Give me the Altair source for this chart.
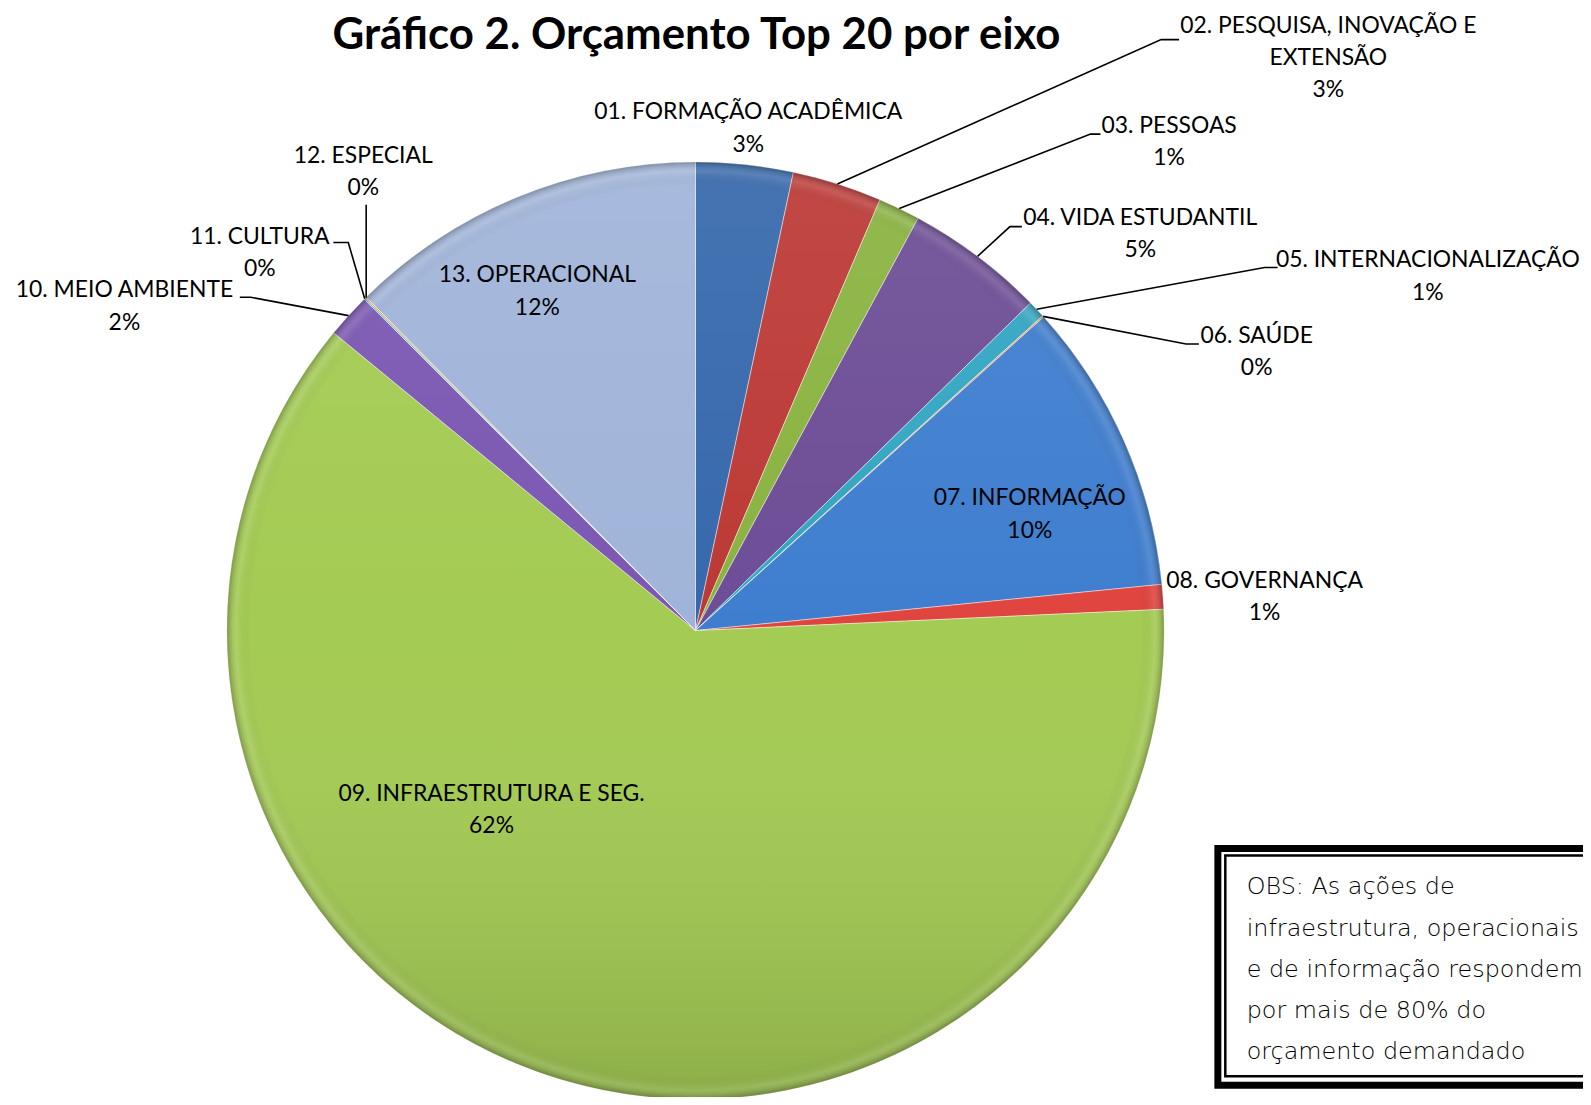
import math
import altair as alt
import pandas as pd

# ---------------- data ----------------
categories = [
    "01. FORMAÇÃO ACADÊMICA", "02. PESQUISA, INOVAÇÃO E EXTENSÃO", "03. PESSOAS",
    "04. VIDA ESTUDANTIL", "05. INTERNACIONALIZAÇÃO", "06. SAÚDE", "07. INFORMAÇÃO",
    "08. GOVERNANÇA", "09. INFRAESTRUTURA E SEG.", "10. MEIO AMBIENTE", "11. CULTURA",
    "12. ESPECIAL", "13. OPERACIONAL",
]
values = [3.35, 3.09, 1.44, 4.80, 0.60, 0.05, 10.10, 0.85, 61.70, 1.54, 0.05, 0.05, 12.40]
label_lines = [
    ["01. FORMAÇÃO ACADÊMICA"], ["02. PESQUISA, INOVAÇÃO E", "EXTENSÃO"], ["03. PESSOAS"],
    ["04. VIDA ESTUDANTIL"], ["05. INTERNACIONALIZAÇÃO"], ["06. SAÚDE"], ["07. INFORMAÇÃO"],
    ["08. GOVERNANÇA"], ["09. INFRAESTRUTURA E SEG."], ["10. MEIO AMBIENTE"], ["11. CULTURA"],
    ["12. ESPECIAL"], ["13. OPERACIONAL"],
]
title_text = "Gráfico 2. Orçamento Top 20 por eixo"
note_lines = ["OBS: As ações de", "infraestrutura, operacionais", "e de informação respondem",
              "por mais de 80% do", "orçamento demandado"]

# ---------------- styles / layout ----------------
colors = ["#3668AC", "#BC3935", "#8AB340", "#6D4D96", "#32A6C3", "#F79646", "#3F7ECF",
          "#E0443E", "#A4CB53", "#7B57B2", "#4BC0DC", "#F9A050", "#A0B4D9"]
TOP = 8                      # extra top padding; all y below are shifted up by it
W, H = 1583, 1089 - TOP
CX, CY, R = 691, 623 - TOP, 471
LINE_H = 32.5
FONT = "Lato"
# first-line centre of each label (layout, before shift)
label_pos = [(744, 102), (1327, 15), (1167, 116), (1138, 208), (1427, 251), (1255, 327),
             (1027, 490), (1263, 573), (486, 787), (117, 281), (253, 227), (357, 146),
             (532, 266)]
# leader lines: (elbow, end) near label, or None (before shift)
leaders = [None, ((1159, 29), (1177, 29)), ((1088, 124), (1098, 124)),
           ((1007, 217), (1019, 217)), ((1263, 258), (1276, 258)), ((1184, 335), (1197, 335)),
           None, None, None, ((244, 288), (233, 288)), ((342, 233), (327, 233)),
           ((360, 195), (360, 195)), None]

total = sum(values)
pct = [f"{round(v / total * 100):d}%" for v in values]

df = pd.DataFrame({"cat": categories, "value": values, "idx": list(range(len(values)))})

# leader line points (start on rim at slice mid-angle)
rows = []
cum = 0.0
for i, v in enumerate(values):
    mid = (cum + v / 2) / total * 2 * math.pi
    cum += v
    if leaders[i] is None:
        continue
    sx = CX + R * math.sin(mid)
    sy = CY - R * math.cos(mid)
    (ex, ey), (tx, ty) = leaders[i]
    if i == 11:
        sx = ex
    rows += [{"id": i, "o": 0, "x": sx, "y": sy},
             {"id": i, "o": 1, "x": ex, "y": ey - TOP},
             {"id": i, "o": 2, "x": tx, "y": ty - TOP}]
lead_df = pd.DataFrame(rows)

lab_rows = []
for i, lines in enumerate(label_lines):
    x0, y0 = label_pos[i]
    for k, t in enumerate(lines + [pct[i]]):
        lab_rows.append({"x": x0, "y": y0 - TOP + k * LINE_H, "t": t})
lab_df = pd.DataFrame(lab_rows)

note_df = pd.DataFrame({"t": note_lines,
                        "y": [881 - TOP + 41.5 * k for k in range(len(note_lines))]})

one = pd.DataFrame({"a": [0]})

pie = alt.Chart(df).mark_arc(radius=R, x=CX, y=CY, stroke="#ffffff", strokeWidth=1,
                             strokeOpacity=0.45).encode(
    theta=alt.Theta("value:Q", stack=True, scale=alt.Scale(domain=[0, total], nice=False)),
    color=alt.Color("cat:N", scale=alt.Scale(domain=categories, range=colors), legend=None),
    order=alt.Order("idx:Q"),
)

shade_lin = alt.Chart(one).mark_arc(
    radius=R, x=CX, y=CY, theta=0, theta2=2 * math.pi,
    fill={"gradient": "linear", "x1": 0, "y1": 0, "x2": 0, "y2": 1,
          "stops": [{"offset": 0, "color": "rgba(255,255,255,0.08)"},
                    {"offset": 0.5, "color": "rgba(255,255,255,0)"},
                    {"offset": 1, "color": "rgba(0,0,0,0.14)"}]},
).encode(opacity=alt.value(1))

shade_rad = alt.Chart(one).mark_arc(
    radius=R, x=CX, y=CY, theta=0, theta2=2 * math.pi,
    fill={"gradient": "radial", "x1": 0.5, "y1": 0.5, "r1": 0, "x2": 0.5, "y2": 0.5, "r2": 0.5,
          "stops": [{"offset": 0, "color": "rgba(0,0,0,0)"},
                    {"offset": 0.95, "color": "rgba(0,0,0,0)"},
                    {"offset": 0.98, "color": "rgba(255,255,255,0.10)"},
                    {"offset": 1, "color": "rgba(0,0,0,0.25)"}]},
).encode(opacity=alt.value(1))

lead = alt.Chart(lead_df).mark_line(color="#000000", strokeWidth=1.6).encode(
    x=alt.X("x:Q", scale=None, axis=None),
    y=alt.Y("y:Q", scale=None, axis=None),
    detail="id:N",
    order="o:Q",
)

labels = alt.Chart(lab_df).mark_text(font=FONT, fontSize=23, color="#000000",
                                     align="center", baseline="middle").encode(
    x=alt.X("x:Q", scale=None, axis=None),
    y=alt.Y("y:Q", scale=None, axis=None),
    text="t:N",
)

title = alt.Chart(one).mark_text(text=title_text, font=FONT, fontSize=44, fontWeight="bold",
                                 color="#000000", align="center", baseline="middle").encode(
    x=alt.value(692), y=alt.value(25 - TOP))

box_outer = alt.Chart(one).mark_rect(filled=False, stroke="#000000", strokeWidth=7).encode(
    x=alt.value(1216), x2=alt.value(1620), y=alt.value(842 - TOP), y2=alt.value(1080 - TOP))
box_inner = alt.Chart(one).mark_rect(filled=False, stroke="#000000", strokeWidth=2.5).encode(
    x=alt.value(1223.5), x2=alt.value(1610), y=alt.value(849 - TOP), y2=alt.value(1071 - TOP))

note = alt.Chart(note_df).mark_text(font="DejaVu Sans", fontSize=24, fontWeight=300,
                                    color="#000000", align="left", baseline="middle").encode(
    x=alt.value(1245),
    y=alt.Y("y:Q", scale=None, axis=None),
    text="t:N",
)

chart = alt.layer(pie, shade_lin, shade_rad, lead, labels, title, box_outer, box_inner, note).properties(
    width=W, height=H, autosize=alt.AutoSizeParams(type="none"),
    padding={"top": TOP, "left": 0, "right": 0, "bottom": 0},
).configure_view(stroke=None)

chart.save("out.html", embed_options={"renderer": "svg", "actions": False})
